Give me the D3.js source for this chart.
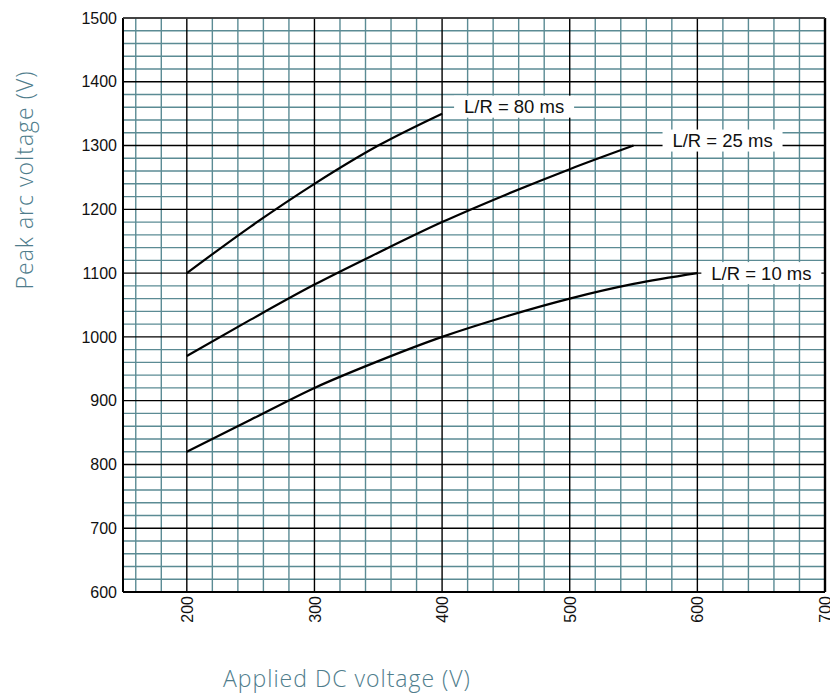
<!DOCTYPE html>
<html>
<head>
<meta charset="utf-8">
<script src="https://cdn.jsdelivr.net/npm/d3@7"></script>
<style>
  html, body { margin: 0; padding: 0; background: #fff; }
  svg { display: block; }
</style>
</head>
<body>
<svg id="chart" width="830" height="696"></svg>
<script>
// ---- data ----
const xTicks = [200, 300, 400, 500, 600, 700];
const yTicks = [600, 700, 800, 900, 1000, 1100, 1200, 1300, 1400, 1500];
const seriesNames = ["L/R = 80 ms", "L/R = 25 ms", "L/R = 10 ms"];
const xs80 = [200, 250, 300, 350, 400];
const ys80 = [1100, 1173, 1240, 1300, 1350];
const xs25 = [200, 250, 300, 350, 400, 450, 500, 550];
const ys25 = [970, 1027, 1082, 1132, 1180, 1223, 1263, 1300];
const xs10 = [200, 250, 300, 350, 400, 450, 500, 550, 600];
const ys10 = [820, 870, 920, 962, 1000, 1032, 1060, 1083, 1100];
const xTitle = "Applied DC voltage (V)";
const yTitle = "Peak arc voltage (V)";

// ---- layout ----
const svg = d3.select("#chart");
const x = d3.scaleLinear().domain([150, 700]).range([123, 825]);
const y = d3.scaleLinear().domain([600, 1500]).range([592, 18]);
const teal = "#5b8b94";

const g = svg.append("g");

// minor grid
const minorX = d3.range(160, 700, 20).filter(v => v % 100 !== 0);
const minorY = d3.range(620, 1500, 20).filter(v => v % 100 !== 0);
g.append("g").selectAll("line").data(minorX).join("line")
  .attr("x1", d => x(d)).attr("x2", d => x(d))
  .attr("y1", y(600)).attr("y2", y(1500))
  .attr("stroke", teal).attr("stroke-width", 1.4);
g.append("g").selectAll("line").data(minorY).join("line")
  .attr("y1", d => y(d)).attr("y2", d => y(d))
  .attr("x1", x(150)).attr("x2", x(700))
  .attr("stroke", teal).attr("stroke-width", 1.4);

// major grid
g.append("g").selectAll("line").data(xTicks).join("line")
  .attr("x1", d => x(d)).attr("x2", d => x(d))
  .attr("y1", y(600)).attr("y2", y(1500))
  .attr("stroke", "#000").attr("stroke-width", 1.4);
g.append("g").selectAll("line").data(yTicks).join("line")
  .attr("y1", d => y(d)).attr("y2", d => y(d))
  .attr("x1", x(150)).attr("x2", x(700))
  .attr("stroke", "#000").attr("stroke-width", 1.4);

// frame
g.append("line").attr("x1", x(150)).attr("x2", x(150)).attr("y1", y(600)).attr("y2", y(1500)).attr("stroke", "#000").attr("stroke-width", 2);
g.append("line").attr("x1", x(150)).attr("x2", x(700)).attr("y1", y(600)).attr("y2", y(600)).attr("stroke", "#000").attr("stroke-width", 2);
g.append("line").attr("x1", x(700)).attr("x2", x(700)).attr("y1", y(600)).attr("y2", y(1500)).attr("stroke", "#000").attr("stroke-width", 2.4);
g.append("line").attr("x1", x(150)).attr("x2", x(700)).attr("y1", y(1500)).attr("y2", y(1500)).attr("stroke", "#444").attr("stroke-width", 1.6);

// axes (labels only)
const yAxis = d3.axisLeft(y).tickValues(yTicks).tickSize(0).tickPadding(6).tickFormat(d3.format("d"));
const yg = svg.append("g").attr("transform", `translate(${x(150)},0)`).call(yAxis);
yg.select(".domain").remove();
yg.selectAll("text").attr("font-family", "Liberation Sans, Arial, sans-serif").attr("font-size", 16).attr("fill", "#111");

const xAxis = d3.axisBottom(x).tickValues(xTicks).tickSize(0).tickFormat(d3.format("d"));
const xg = svg.append("g").attr("transform", `translate(0,${y(600)})`).call(xAxis);
xg.select(".domain").remove();
xg.selectAll("text")
  .attr("font-family", "Liberation Sans, Arial, sans-serif").attr("font-size", 16).attr("fill", "#111")
  .attr("transform", "rotate(-90)")
  .attr("text-anchor", "end")
  .attr("dy", "0.35em")
  .attr("y", 0)
  .attr("x", -4);

// curves
const series = [
  { name: seriesNames[0], pts: xs80.map((v, i) => [v, ys80[i]]), dx: 12, dy: -7 },
  { name: seriesNames[1], pts: xs25.map((v, i) => [v, ys25[i]]), dx: 29, dy: -5 },
  { name: seriesNames[2], pts: xs10.map((v, i) => [v, ys10[i]]), dx: 4, dy: 0 }
];
const line = d3.line().x(d => x(d[0])).y(d => y(d[1])).curve(d3.curveMonotoneX);
svg.append("g").selectAll("path").data(series).join("path")
  .attr("d", d => line(d.pts))
  .attr("fill", "none").attr("stroke", "#000").attr("stroke-width", 2.2);

// labels with white boxes
const lab = svg.append("g").selectAll("g").data(series).join("g")
  .attr("transform", d => {
    const e = d.pts[d.pts.length - 1];
    return `translate(${x(e[0]) + d.dx},${y(e[1]) + d.dy})`;
  });
lab.append("rect").attr("x", 0).attr("y", -11).attr("width", 120).attr("height", 22).attr("fill", "#fff");
lab.append("text").text(d => d.name)
  .attr("x", 60).attr("y", 0).attr("dy", "0.35em").attr("text-anchor", "middle")
  .attr("font-family", "Liberation Sans, Arial, sans-serif").attr("font-size", 18.5).attr("fill", "#111");

// titles
svg.append("text").text(xTitle)
  .attr("x", 223).attr("y", 687).attr("text-anchor", "start")
  .attr("font-family", "Open Sans, sans-serif").attr("font-size", 23).attr("font-weight", 300)
  .attr("letter-spacing", 1).attr("fill", "#4f7d8c");
svg.append("text").text(yTitle)
  .attr("transform", "translate(33,180) rotate(-90)").attr("text-anchor", "middle")
  .attr("font-family", "Open Sans, sans-serif").attr("font-size", 23).attr("font-weight", 300)
  .attr("letter-spacing", 1).attr("fill", "#4f7d8c");
</script>
</body>
</html>
